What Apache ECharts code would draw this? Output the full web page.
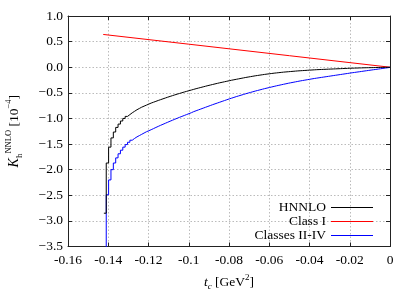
<!DOCTYPE html>
<html>
<head>
<meta charset="utf-8">
<script src="https://cdn.jsdelivr.net/npm/echarts@6/dist/echarts.min.js"></script>
<style>html,body{margin:0;padding:0;background:#fff}#c{width:415px;height:291px}</style>
</head>
<body>
<div id="c"></div>
<script>
// Histogram: first bin lower edge and common bin width (GeV^2)
const firstEdge = -0.142175;
const binWidth = 0.001175;

// HNNLO (black) bin values, 121 bins
const hnnlo = [-2.85,
 -1.87,-1.56,-1.38,-1.265,-1.175,-1.11,-1.05,-1.00,-0.96,-0.925,
 -0.89,-0.86,-0.83,-0.805,-0.78,-0.76,-0.74,-0.72,-0.70,-0.683,
 -0.666,-0.649,-0.633,-0.617,-0.601,-0.585,-0.570,-0.555,-0.540,-0.526,
 -0.512,-0.498,-0.484,-0.471,-0.458,-0.445,-0.432,-0.419,-0.407,-0.395,
 -0.383,-0.371,-0.359,-0.348,-0.337,-0.326,-0.315,-0.304,-0.294,-0.284,
 -0.274,-0.264,-0.254,-0.245,-0.236,-0.227,-0.218,-0.209,-0.200,-0.192,
 -0.184,-0.176,-0.168,-0.161,-0.154,-0.147,-0.140,-0.134,-0.128,-0.122,
 -0.116,-0.111,-0.106,-0.101,-0.096,-0.092,-0.088,-0.084,-0.080,-0.076,
 -0.072,-0.069,-0.066,-0.063,-0.060,-0.057,-0.054,-0.051,-0.048,-0.046,
 -0.044,-0.042,-0.040,-0.038,-0.036,-0.034,-0.032,-0.030,-0.028,-0.026,
 -0.024,-0.022,-0.020,-0.019,-0.017,-0.016,-0.014,-0.013,-0.011,-0.010,
 -0.009,-0.008,-0.007,-0.006,-0.005,-0.004,-0.003,-0.002,-0.001,-0.001];

// Classes II-IV (blue) bin values, 121 bins
const classes24 = [-4.8,
 -2.49,-2.20,-2.00,-1.87,-1.77,-1.69,-1.62,-1.56,-1.51,-1.465,
 -1.425,-1.39,-1.36,-1.335,-1.31,-1.285,-1.26,-1.24,-1.22,-1.198,
 -1.176,-1.155,-1.134,-1.114,-1.094,-1.074,-1.054,-1.035,-1.016,-0.997,
 -0.978,-0.96,-0.942,-0.924,-0.906,-0.888,-0.867,-0.85,-0.833,-0.816,
 -0.799,-0.782,-0.765,-0.748,-0.731,-0.715,-0.699,-0.683,-0.667,-0.651,
 -0.635,-0.619,-0.604,-0.589,-0.574,-0.560,-0.546,-0.532,-0.518,-0.505,
 -0.492,-0.479,-0.466,-0.454,-0.442,-0.430,-0.418,-0.407,-0.396,-0.385,
 -0.374,-0.363,-0.353,-0.343,-0.333,-0.323,-0.313,-0.304,-0.295,-0.286,
 -0.277,-0.268,-0.260,-0.252,-0.244,-0.236,-0.228,-0.220,-0.213,-0.206,
 -0.199,-0.192,-0.185,-0.178,-0.171,-0.164,-0.157,-0.150,-0.143,-0.136,
 -0.129,-0.122,-0.115,-0.108,-0.102,-0.095,-0.089,-0.082,-0.075,-0.069,
 -0.062,-0.056,-0.049,-0.043,-0.036,-0.030,-0.023,-0.016,-0.010,-0.003];

// Class I (red): straight line
const class1T = [-0.1425, -0.10, -0.05, 0];
const class1V = [0.64, 0.45, 0.225, 0];

const xTicks = [-0.16,-0.14,-0.12,-0.1,-0.08,-0.06,-0.04,-0.02,0];
const yTicks = [1.0,0.5,0.0,-0.5,-1.0,-1.5,-2.0,-2.5,-3.0,-3.5];

const seriesNames = ['HNNLO', 'Class I', 'Classes II-IV'];
const seriesColors = ['#000000', '#ff0000', '#0000ff'];

function histPoints(vals){
  const pts = [];
  for (let i = 0; i < vals.length; i++) pts.push([firstEdge + i*binWidth, vals[i]]);
  pts.push([firstEdge + vals.length*binWidth, vals[vals.length-1]]);
  return pts;
}

const FONT = 'Liberation Serif';
const chart = echarts.init(document.getElementById('c'), null, {renderer:'canvas'});

chart.setOption({
  animation:false,
  backgroundColor:'#fff',
  grid:{left:68, right:25, top:16, bottom:44.5, containLabel:false, outerBoundsMode:'none'},
  legend:{
    orient:'vertical', align:'right', right: 37, top: 195.5, itemGap: 0,
    itemWidth: 42, itemHeight: 1.2, icon: 'rect',
    textStyle:{fontFamily:FONT, fontSize:13.5, color:'#000', lineHeight:14, width:80, align:'right'},
    selectedMode:false,
    data: seriesNames.map((n,i)=>({name:n, itemStyle:{color:seriesColors[i], borderWidth:0}}))
  },
  xAxis:[{
    type:'value', min:xTicks[0], max:xTicks[xTicks.length-1], interval:0.02,
    axisLine:{show:true, onZero:false, lineStyle:{color:'#222', width:1}},
    axisTick:{show:true, inside:true, length:4, lineStyle:{color:'#222'}},
    axisLabel:{fontFamily:FONT, fontSize:13.5, color:'#000', margin:7,
      formatter:v=>String(+v.toFixed(2))},
    splitLine:{show:true, lineStyle:{color:'#bbb', type:[1.5,2], width:1}},
    name:'{i|t}{sub|c} [GeV{sup|2}]', nameLocation:'middle', nameGap:27,
    nameTextStyle:{fontFamily:FONT, fontSize:13.5, color:'#000', lineHeight:18,
      rich:{i:{fontFamily:FONT, fontStyle:'italic', fontSize:13.5, lineHeight:18},
            sub:{fontFamily:FONT, fontStyle:'italic', fontSize:9, verticalAlign:'bottom', lineHeight:12},
            sup:{fontFamily:FONT, fontSize:9, verticalAlign:'top', lineHeight:12}}}
  },{
    type:'value', position:'top', min:xTicks[0], max:xTicks[xTicks.length-1], interval:0.02,
    axisLine:{show:true, onZero:false, lineStyle:{color:'#222', width:1}},
    axisTick:{show:true, inside:true, length:4, lineStyle:{color:'#222'}},
    axisLabel:{show:false}, splitLine:{show:false}
  }],
  yAxis:[{
    type:'value', min:yTicks[yTicks.length-1], max:yTicks[0], interval:0.5,
    axisLine:{show:true, onZero:false, lineStyle:{color:'#222', width:1}},
    axisTick:{show:true, inside:true, length:4, lineStyle:{color:'#222'}},
    axisLabel:{fontFamily:FONT, fontSize:13.5, color:'#000', margin:5,
      formatter:v=>v.toFixed(1).replace('-','\u2212')},
    splitLine:{show:true, lineStyle:{color:'#bbb', type:[1.5,2], width:1}},
    name:'{k|K}{sub|h}{sup|NNLO} [10{sup|\u22124}]', nameLocation:'middle', nameRotate:90, nameGap:44,
    nameTextStyle:{fontFamily:FONT, fontSize:13.5, color:'#000', lineHeight:20,
      rich:{k:{fontFamily:FONT, fontStyle:'italic', fontSize:14, lineHeight:20},
            sub:{fontFamily:FONT, fontSize:9, verticalAlign:'bottom', lineHeight:12},
            sup:{fontFamily:FONT, fontSize:8.5, verticalAlign:'top', lineHeight:12}}}
  },{
    type:'value', position:'right', min:yTicks[yTicks.length-1], max:yTicks[0], interval:0.5,
    axisLine:{show:true, onZero:false, lineStyle:{color:'#222', width:1}},
    axisTick:{show:true, inside:true, length:4, lineStyle:{color:'#222'}},
    axisLabel:{show:false}, splitLine:{show:false}
  }],
  series:[
    {name:seriesNames[0], type:'line', step:'end', data:histPoints(hnnlo), showSymbol:false, symbol:'none',
      lineStyle:{color:seriesColors[0], width:1}, itemStyle:{color:seriesColors[0]}, clip:true, z:3},
    {name:seriesNames[1], type:'line', data:class1T.map((t,i)=>[t,class1V[i]]), showSymbol:false, symbol:'none',
      lineStyle:{color:seriesColors[1], width:1}, itemStyle:{color:seriesColors[1]}, clip:true, z:2},
    {name:seriesNames[2], type:'line', step:'end', data:histPoints(classes24), showSymbol:false, symbol:'none',
      lineStyle:{color:seriesColors[2], width:1}, itemStyle:{color:seriesColors[2]}, clip:true, z:2}
  ]
});
</script>
</body>
</html>
